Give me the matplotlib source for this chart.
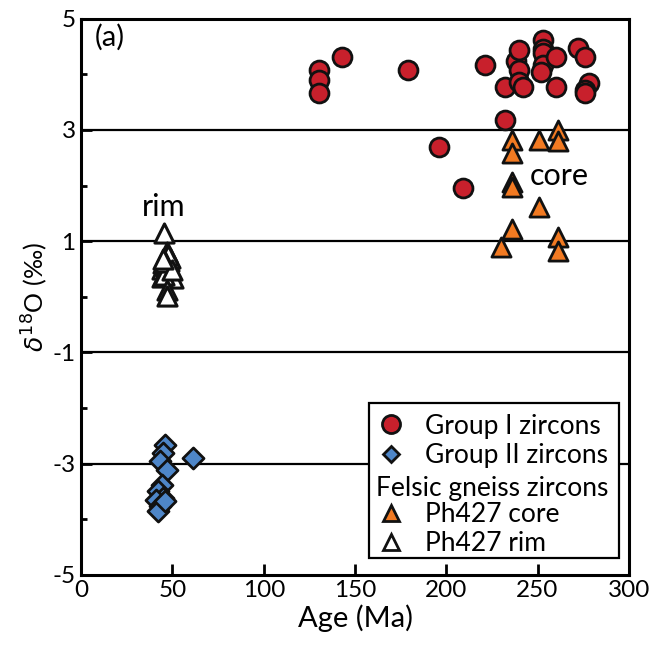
import numpy as np
import matplotlib.pyplot as plt
from matplotlib.lines import Line2D
from matplotlib.patches import Rectangle
from matplotlib.ticker import MultipleLocator

plt.rcParams['font.family'] = ['Lato', 'DejaVu Sans']
plt.rcParams['axes.unicode_minus'] = False

# Group I zircons (edad en Ma, d18O en permil)
g1_age = np.array([130, 130, 130, 143, 179, 196, 209, 221, 232, 232, 238, 240, 240,
                   240, 242, 253, 253, 253, 253, 252, 260, 260, 272, 276, 278, 276, 276])
g1_d18o = np.array([4.08, 3.90, 3.67, 4.32, 4.08, 2.70, 1.96, 4.16, 3.77, 3.18, 4.24, 4.43,
                    4.08, 3.86, 3.78, 4.62, 4.45, 4.38, 4.17, 4.05, 4.31, 3.78, 4.47, 4.32,
                    3.84, 3.72, 3.66])

# Group II zircons
g2_age = np.array([46, 45, 43, 47, 61, 44, 42, 45, 41, 43, 42, 46])
g2_d18o = np.array([-2.66, -2.81, -2.96, -3.11, -2.90, -3.38, -3.50, -3.62, -3.65,
                    -3.77, -3.86, -3.68])

# Ph427 core
core_age = np.array([236, 236, 236, 236, 251, 261, 261, 251, 236, 230, 261, 261])
core_d18o = np.array([2.82, 2.58, 2.07, 1.97, 2.82, 3.00, 2.81, 1.61, 1.22, 0.89, 1.07, 0.83])

# Ph427 rim
rim_age = np.array([45.5, 47, 46, 48, 45, 44.5, 46, 47.5, 49, 50.5, 44, 46.5, 48.5, 45.5,
                    47.5, 46, 49.5, 45, 47, 47])
rim_d18o = np.array([1.15, 0.80, 0.72, 0.65, 0.60, 0.50, 0.45, 0.42, 0.38, 0.33, 0.35,
                     0.55, 0.70, 0.40, 0.75, 0.62, 0.48, 0.68, 0.12, 0.02])

red = '#C8202C'
blue = '#4E86C8'
orange = '#F27A22'

fig = plt.figure(figsize=(6.55, 6.48), dpi=100)
ax = fig.add_axes([0.124, 0.113, 0.836, 0.858])

for yl in [3, 1, -1, -3]:
    ax.axhline(yl, color='black', lw=1.6, zorder=1)

ax.scatter(g1_age, g1_d18o, s=185, c=red, edgecolors='#111111', linewidths=2.0, zorder=3)
ax.scatter(g2_age, g2_d18o, s=115, marker='D', c=blue, edgecolors='#111111',
           linewidths=2.0, zorder=3)
ax.scatter(core_age, core_d18o, s=190, marker='^', c=orange, edgecolors='#111111',
           linewidths=2.0, zorder=4)
ax.scatter(rim_age, rim_d18o, s=190, marker='^', c='white', edgecolors='#111111',
           linewidths=2.2, zorder=4)

ax.text(45, 1.62, 'rim', fontsize=22, ha='center', va='center')
ax.text(246, 2.18, 'core', fontsize=22, ha='left', va='center')
ax.text(0.024, 0.966, '(a)', fontsize=21, ha='left', va='center', transform=ax.transAxes)

ax.set_xlim(0, 300)
ax.set_ylim(-5, 5)
ax.set_xticks(np.arange(0, 301, 50))
ax.set_yticks([-5, -3, -1, 1, 3, 5])
ax.yaxis.set_minor_locator(MultipleLocator(1))
ax.tick_params(axis='both', which='major', direction='in', length=8, width=2,
               labelsize=17.5, pad=4)
ax.tick_params(axis='y', which='minor', direction='in', length=4, width=2)
for sp in ax.spines.values():
    sp.set_linewidth(2.2)

ax.set_xlabel('Age (Ma)', fontsize=21, labelpad=2)
ax.set_ylabel(r'$\delta^{18}$O (‰)', fontsize=18, labelpad=2)

# recuadro de la leyenda y cabecera de los gneises
ax.add_patch(Rectangle((0.5255, 0.0306), 0.4563, 0.2788, transform=ax.transAxes,
                       facecolor='white', edgecolor='black', lw=1.6, zorder=5))
ax.text(0.538, 0.155, 'Felsic gneiss zircons', fontsize=19, ha='left', va='center',
        transform=ax.transAxes, zorder=7)

handles = [
    Line2D([], [], ls='', marker='o', ms=13, mfc=red, mec='#111111', mew=2),
    Line2D([], [], ls='', marker='D', ms=8, mfc=blue, mec='#111111', mew=2),
    Line2D([], [], ls='', marker=None),
    Line2D([], [], ls='', marker='^', ms=12, mfc=orange, mec='#111111', mew=2),
    Line2D([], [], ls='', marker='^', ms=12, mfc='white', mec='#111111', mew=2),
]
labels = ['Group I zircons', 'Group II zircons', ' ', 'Ph427 core', 'Ph427 rim']
leg = ax.legend(handles, labels, loc='upper left', bbox_to_anchor=(0.539, 0.29),
                fontsize=19, frameon=False, handletextpad=0.74, labelspacing=0.17,
                borderpad=0, handlelength=1.1, borderaxespad=0)
leg.set_zorder(6)

plt.savefig('out.png', dpi=100)
